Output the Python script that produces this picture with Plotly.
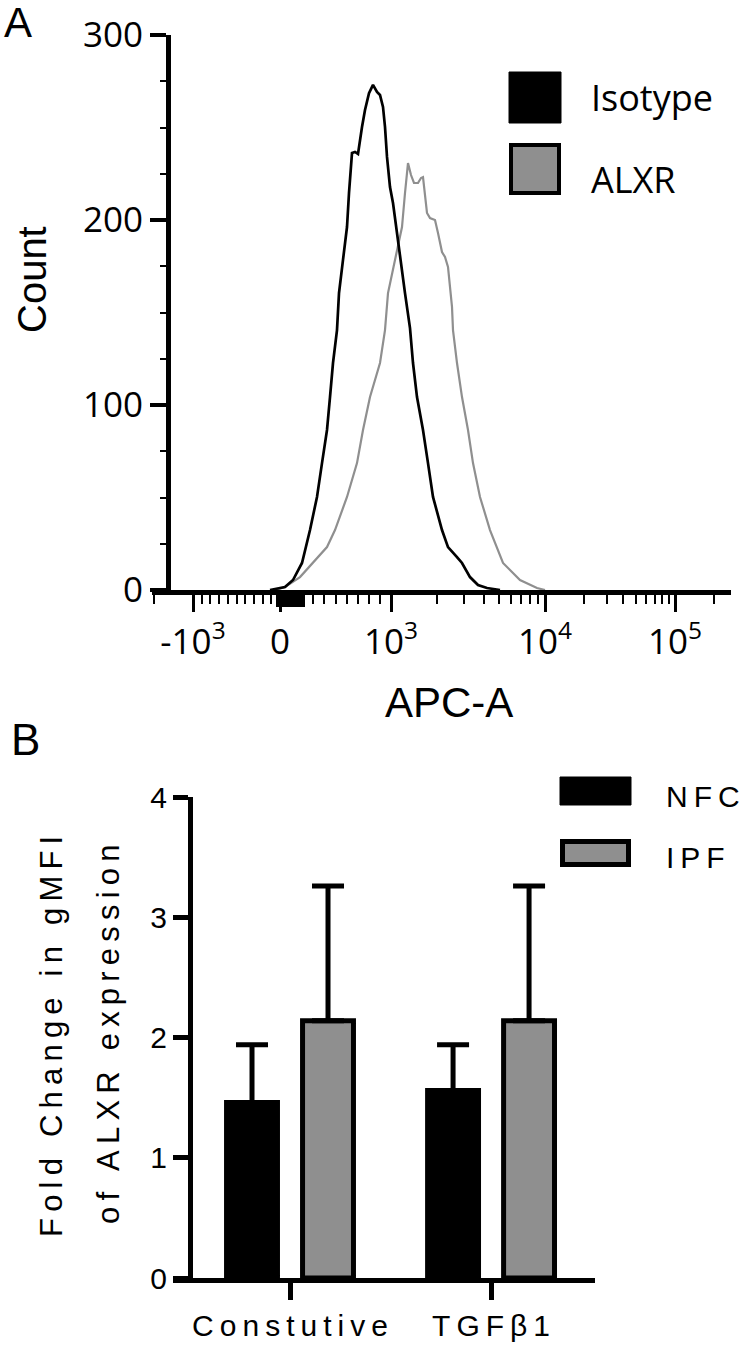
import math
import plotly.graph_objects as go

W, H = 746, 1354
GRAY = "#8f8f8f"
ARIAL = "Liberation Sans, Arial, sans-serif"
SEGOE = "Open Sans, Noto Sans, sans-serif"

# ---------------- Panel A: flow histogram (x in biexponential display channels) ----------------
apc_channel_isotype = [-10, 5, 13, 22, 30, 37, 42, 47, 50, 53, 57, 59, 63, 67, 69, 71, 72, 75, 78,
                       82, 85, 89, 92, 93, 97, 100, 103, 105, 107, 110, 113, 117, 120, 125, 130,
                       133, 137, 143, 148, 153, 162, 168, 177, 182, 190, 198, 207, 220]
count_isotype = [0, 1.6, 5.4, 14.6, 32.4, 50.3, 68.6, 86.5, 104.3, 122.7, 140.5, 160.5, 178.4,
                 196.2, 214.6, 232.4, 236.2, 236.8, 235.7, 250.3, 259.5, 268.6, 271.9, 273.0,
                 269.2, 267.6, 261.1, 250.3, 234.1, 217.8, 209.2, 193.0, 178.4, 160.5, 141.6,
                 122.7, 104.3, 86.5, 68.6, 50.3, 32.4, 23.2, 17.8, 14.6, 7.0, 2.7, 1.1, 0]

apc_channel_alxr = [-5, 5, 20, 33, 47, 55, 67, 77, 83, 90, 100, 105, 108, 115, 122, 125, 127, 128,
                    131, 134, 138, 141, 143, 147, 150, 155, 158, 162, 165, 168, 172, 173, 177,
                    182, 188, 193, 200, 210, 223, 240, 257, 265]
count_alxr = [0, 1.6, 7.0, 14.6, 23.2, 32.4, 50.3, 68.6, 86.5, 104.3, 122.7, 140.5, 160.5, 178.4,
              196.2, 214.6, 226.0, 230.8, 224.3, 220.0, 220.0, 222.7, 223.2, 203.8, 201.0, 200.0,
              193.0, 182.7, 180.0, 174.6, 153.0, 140.5, 122.7, 104.3, 86.5, 68.6, 50.3, 32.4,
              14.6, 5.4, 1.1, 0]

count_ticks = [0, 100, 200, 300]
apc_major_values = [-1000, 0, 1000, 10000, 100000]
apc_major_labels = ["-10<sup>3</sup>", "0", "10<sup>3</sup>", "10<sup>4</sup>", "10<sup>5</sup>"]
apc_zero_cluster = [-20, 0, 40, 80, 120, 160, 200]
apc_minor_values = ([-2000] + list(range(-900, 0, 100)) + list(range(300, 1000, 100)) +
                    list(range(2000, 10000, 1000)) + list(range(20000, 100000, 10000)) + [200000])


def biex(v):
    """Display-channel position of a fluorescence value on the biexponential axis."""
    if v < -1000:
        return -87 - 130 * math.log10(-v / 1000)
    if v < 0:
        return 0.087 * v
    if v <= 1000:
        return 0.111 * v
    if v <= 10000:
        return 111 + 154 * math.log10(v / 1000)
    return 265 + 130 * math.log10(v / 10000)


# ---------------- Panel B: bar chart ----------------
conditions = ["Constutive", "TGFβ1"]
nfc_mean = [1.46, 1.56]
nfc_sd = [0.48, 0.38]
ipf_mean = [2.14, 2.14]
ipf_sd = [1.12, 1.12]
fold_ticks = [0, 1, 2, 3, 4]


def spaced(s):
    return "\u2009".join(s)


def px(x):
    return x / W


def py(y):
    return 1 - y / H


fig = go.Figure()

fig.add_trace(go.Scatter(x=apc_channel_alxr, y=count_alxr, mode="lines",
                         line=dict(color=GRAY, width=2.2), xaxis="x", yaxis="y",
                         showlegend=False, name="ALXR"))
fig.add_trace(go.Scatter(x=apc_channel_isotype, y=count_isotype, mode="lines",
                         line=dict(color="black", width=2.7), xaxis="x", yaxis="y",
                         showlegend=False, name="Isotype"))

fig.add_trace(go.Bar(x=conditions, y=nfc_mean, name="NFC", xaxis="x2", yaxis="y2",
                     marker=dict(color="black", line=dict(color="black", width=5)),
                     error_y=dict(type="data", array=nfc_sd, arrayminus=[0, 0], symmetric=False,
                                  color="black", thickness=5, width=16),
                     showlegend=False))
fig.add_trace(go.Bar(x=conditions, y=ipf_mean, name="IPF", xaxis="x2", yaxis="y2",
                     marker=dict(color=GRAY, line=dict(color="black", width=5)),
                     error_y=dict(type="data", array=ipf_sd, arrayminus=[0, 0], symmetric=False,
                                  color="black", thickness=5, width=16),
                     showlegend=False))

XA_DOMAIN = [px(152), px(731)]
XA_RANGE = [-128, 451]

fig.update_layout(
    width=W, height=H, margin=dict(l=0, r=0, t=0, b=0, autoexpand=False),
    paper_bgcolor="white", plot_bgcolor="white",
    barmode="group", bargap=0.244, bargroupgap=0.33,
    xaxis=dict(domain=XA_DOMAIN, range=XA_RANGE, anchor="y", automargin=False,
               showline=True, linewidth=5, linecolor="black", showgrid=False, zeroline=False,
               ticks="outside", tickmode="array", tickvals=[biex(v) for v in apc_major_values],
               ticktext=apc_major_labels,
               ticklen=17, tickwidth=3, tickcolor="black",
               tickfont=dict(family=SEGOE, size=35, color="black"),
               minor=dict(tickmode="array", tickvals=[biex(v) for v in apc_minor_values],
                          ticks="outside", ticklen=9, tickwidth=2, tickcolor="black")),
    xaxis3=dict(domain=XA_DOMAIN, range=XA_RANGE, anchor="y", overlaying="x", automargin=False,
                showline=False, showgrid=False, zeroline=False, showticklabels=False,
                ticks="outside", tickmode="array", tickvals=[biex(v) for v in apc_zero_cluster],
                ticklen=16, tickwidth=5, tickcolor="black"),
    yaxis=dict(domain=[py(590), py(35)], range=[0, 300], anchor="free", position=px(168),
               automargin=False,
               showline=True, linewidth=5, linecolor="black", showgrid=False, zeroline=False,
               ticks="outside", tickmode="array", tickvals=count_ticks,
               ticklen=16, tickwidth=4, tickcolor="black",
               tickfont=dict(family=SEGOE, size=35, color="black"),
               minor=dict(dtick=25, tick0=0, ticks="outside", ticklen=6, tickwidth=2,
                          tickcolor="black")),
    xaxis2=dict(domain=[px(173), px(595)], range=[-0.582, 1.517], anchor="y2", type="category",
                automargin=False,
                showline=True, linewidth=5, linecolor="black", showgrid=False, zeroline=False,
                ticks="outside", tickmode="array", tickvals=conditions,
                ticktext=[spaced(c) for c in conditions],
                ticklen=17, tickwidth=5, tickcolor="black",
                tickfont=dict(family=ARIAL, size=30, color="black")),
    yaxis2=dict(domain=[py(1278), py(797)], range=[0, 4], anchor="free", position=px(190),
                automargin=False,
                showline=True, linewidth=5, linecolor="black", showgrid=False, zeroline=False,
                ticks="outside", tickmode="array", tickvals=fold_ticks,
                ticklen=15, tickwidth=5, tickcolor="black",
                tickfont=dict(family=ARIAL, size=30, color="black")),
)

# invisible helper trace so the cluster-tick axis is drawn
fig.add_trace(go.Scatter(x=[XA_RANGE[0]], y=[0], xaxis="x3", yaxis="y", mode="markers",
                         marker=dict(opacity=0), showlegend=False, hoverinfo="skip"))

ann = []


def add_text(text, x, y, size, family=ARIAL, xanchor="left", angle=0):
    ann.append(dict(text=text, x=px(x), y=py(y), xref="paper", yref="paper",
                    xanchor=xanchor, yanchor="middle", showarrow=False, textangle=angle,
                    font=dict(family=family, size=size, color="black")))


add_text("A", 2, 23, 42)
add_text("B", 9, 739, 44)
add_text("Count", 32, 280, 40, xanchor="center", angle=-90)
add_text("APC-A", 449, 702, 42, xanchor="center")
add_text("Isotype", 589, 97, 36, family=SEGOE)
add_text("ALXR", 589, 179, 36, family=SEGOE)
add_text(spaced("NFC"), 664, 796, 30)
add_text(spaced("IPF"), 664, 857, 30)
add_text(spaced("Fold Change in gMFI"), 51, 1037, 31, xanchor="center", angle=-90)
add_text(spaced("of ALXR expression"), 108, 1035, 31, xanchor="center", angle=-90)
fig.update_layout(annotations=ann)

shapes = [
    dict(type="rect", xref="paper", yref="paper", x0=px(509), x1=px(561), y0=py(123), y1=py(72),
         fillcolor="black", line=dict(color="black", width=1)),
    dict(type="rect", xref="paper", yref="paper", x0=px(511), x1=px(559), y0=py(193), y1=py(145),
         fillcolor=GRAY, line=dict(color="black", width=4)),
    dict(type="rect", xref="paper", yref="paper", x0=px(560), x1=px(631), y0=py(805), y1=py(777),
         fillcolor="black", line=dict(color="black", width=1)),
    dict(type="rect", xref="paper", yref="paper", x0=px(562.5), x1=px(628.5), y0=py(864.5),
         y1=py(841.5), fillcolor=GRAY, line=dict(color="black", width=5)),
]
fig.update_layout(shapes=shapes)

fig.write_html("out.html", config={"displayModeBar": False},
               post_script="document.body.style.margin='0px';")
